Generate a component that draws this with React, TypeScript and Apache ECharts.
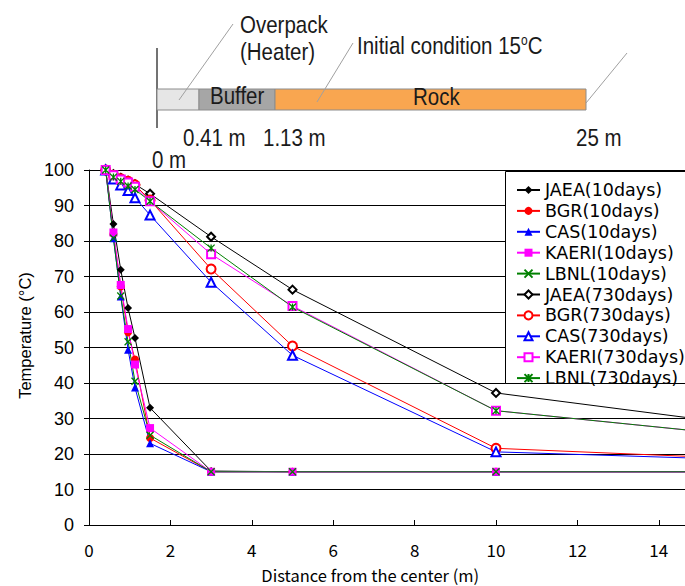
import React, { useEffect, useRef } from 'react';
import * as echarts from 'echarts';

// Distance from the center (m)
const distanceM = [0.41, 0.6, 0.78, 0.96, 1.13, 1.5, 3, 5, 10, 15];

// Temperature (°C) after 10 days
const jaea10 = [100, 84.8, 71.9, 61.1, 52.7, 33.0, 15.2, 15, 15, 15];
const bgr10 = [100, 82.0, 67.2, 54.3, 46.6, 24.5, 15, 15, 15, 15];
const cas10 = [100, 80.8, 64.4, 49.4, 38.7, 23.0, 15, 15, 15, 15];
const kaeri10 = [100, 82.4, 67.6, 55.2, 45.2, 27.3, 15, 15, 15, 15];
const lbnl10 = [100, 80.8, 64.5, 51.6, 40.5, 25.3, 15, 15, 15, 15];

// Temperature (°C) after 730 days
const jaea730 = [100, 98.8, 97.8, 97.0, 96.0, 93.3, 81.2, 66.3, 37.2, 29.8];
const bgr730 = [100, 98.5, 97.5, 96.8, 95.8, 91.5, 72.1, 50.4, 21.6, 19.2];
const cas730 = [100, 97.5, 95.8, 94.2, 92.2, 87.3, 68.4, 47.8, 20.6, 18.8];
const kaeri730 = [100, 98.5, 97.3, 96.5, 95.3, 91.2, 76.3, 61.7, 32.2, 26.4];
const lbnl730 = [100, 98.0, 96.8, 95.5, 94.5, 91.2, 78.0, 61.4, 32.2, 26.4];

const seriesNames = [
  'JAEA(10days)', 'BGR(10days)', 'CAS(10days)', 'KAERI(10days)', 'LBNL(10days)',
  'JAEA(730days)', 'BGR(730days)', 'CAS(730days)', 'KAERI(730days)', 'LBNL(730days)',
];
const seriesValues = [jaea10, bgr10, cas10, kaeri10, lbnl10, jaea730, bgr730, cas730, kaeri730, lbnl730];

const xTicks = [0, 2, 4, 6, 8, 10, 12, 14];
const yTicks = [0, 10, 20, 30, 40, 50, 60, 70, 80, 90, 100];

const CROSS = 'path://M0 0L10 10M10 0L0 10';
const ASTERISK = 'path://M0 0L10 10M10 0L0 10M5 0L5 10';

const colors = ['#000000', '#ff0000', '#0000ff', '#ff00ff', '#008000'];
const filledSymbols = ['diamond', 'circle', 'triangle', 'rect', CROSS];
const emptySymbols = ['emptyDiamond', 'emptyCircle', 'emptyTriangle', 'emptyRect', ASTERISK];
const filledSizes = [8, 8, 8, 8, 7];
const emptySizes = [8, 9, 9, 8, 7];

const DIAG_FONT = '"Liberation Sans", Arial, sans-serif';
const JP_FONT = '"Noto Sans CJK JP", sans-serif';
const LEGEND_FONT = '"DejaVu Sans", sans-serif';

function buildSeries() {
  return seriesValues.map((vals, i) => {
    const k = i % 5;
    const isLong = i >= 5;
    const symbol = isLong ? emptySymbols[k] : filledSymbols[k];
    const isPath = symbol.startsWith('path://');
    const isEmpty = symbol.startsWith('empty');
    return {
      name: seriesNames[i],
      type: 'line',
      data: vals.map((v, j) => [distanceM[j], v]),
      symbol,
      symbolSize: isLong ? emptySizes[k] : filledSizes[k],
      showAllSymbol: true,
      lineStyle: { color: colors[k], width: 1 },
      itemStyle: {
        color: colors[k],
        borderColor: colors[k],
        borderWidth: isPath ? 1.3 : isEmpty ? 1 : 0,
      },
      emphasis: { disabled: true },
      clip: true,
    };
  });
}

function sText(text: string, x: number, y: number, extra: any = {}) {
  return {
    type: 'text',
    x,
    y,
    scaleY: 1.2,
    style: {
      text,
      fontSize: 20.5,
      fontFamily: DIAG_FONT,
      fill: '#1a1a1a',
      align: 'left',
      verticalAlign: 'middle',
      ...extra,
    },
  };
}

export default function App() {
  const ref = useRef<HTMLDivElement>(null);
  useEffect(() => {
    if (!ref.current) return;
    const chart = echarts.init(ref.current, null, { renderer: 'svg' });
    const option: any = {
      animation: false,
      backgroundColor: '#ffffff',
      grid: {
        left: 89,
        top: 170,
        bottom: 61,
        right: -14.5,
        containLabel: false,
        outerBoundsMode: 'none',
      },
      xAxis: {
        type: 'value',
        min: 0,
        max: 15,
        interval: 2,
        name: 'Distance from the center (m)',
        nameLocation: 'middle',
        nameGap: 42,
        nameTextStyle: {
          fontFamily: JP_FONT,
          fontSize: 16.5,
          color: '#000',
          padding: [0, 48, 0, 0],
        },
        axisLine: { lineStyle: { color: '#000', width: 1 } },
        axisTick: { inside: true, length: 5, lineStyle: { color: '#000' } },
        axisLabel: {
          fontFamily: JP_FONT,
          fontSize: 17,
          color: '#000',
          margin: 16,
          showMaxLabel: false,
          formatter: (v: number) => (xTicks.includes(v) ? String(v) : ''),
        },
        splitLine: { show: false },
      },
      yAxis: {
        type: 'value',
        min: 0,
        max: 100,
        interval: 10,
        name: 'Temperature (°C)',
        nameLocation: 'middle',
        nameRotate: 90,
        nameGap: 55,
        nameTextStyle: {
          fontFamily: DIAG_FONT,
          fontSize: 16.5,
          color: '#000',
          padding: [0, 0, 0, 24],
        },
        axisLine: { show: true, lineStyle: { color: '#000', width: 1 } },
        axisTick: { show: true, inside: false, length: 5, lineStyle: { color: '#000' } },
        axisLabel: {
          fontFamily: DIAG_FONT,
          fontSize: 18,
          color: '#000',
          margin: 15,
          formatter: (v: number) => (yTicks.includes(v) ? String(v) : ''),
        },
        splitLine: { show: true, lineStyle: { color: '#000', width: 1 } },
      },
      legend: {
        orient: 'vertical',
        left: 516,
        top: 181,
        padding: 0,
        itemWidth: 23,
        itemHeight: 10,
        itemGap: 2.9,
        textStyle: { fontFamily: LEGEND_FONT, fontSize: 17.5, color: '#000' },
        data: seriesNames,
        selectedMode: false,
      },
      graphic: [
        { type: 'line', shape: { x1: 157, y1: 48, x2: 157, y2: 128 }, style: { stroke: '#444', lineWidth: 1.5 } },
        { type: 'rect', shape: { x: 157, y: 89, width: 42, height: 21 }, style: { fill: '#e6e6e6', stroke: '#8c8c8c', lineWidth: 1 } },
        { type: 'rect', shape: { x: 199, y: 89, width: 76, height: 21 }, style: { fill: '#a6a6a6', stroke: '#8c8c8c', lineWidth: 1 } },
        { type: 'rect', shape: { x: 275, y: 89, width: 311, height: 21 }, style: { fill: '#f9a650', stroke: '#8c8c8c', lineWidth: 1 } },
        { type: 'line', shape: { x1: 179, y1: 100, x2: 233, y2: 24 }, style: { stroke: '#a0a0a0', lineWidth: 1 } },
        { type: 'line', shape: { x1: 317, y1: 102, x2: 353, y2: 43 }, style: { stroke: '#a0a0a0', lineWidth: 1 } },
        { type: 'line', shape: { x1: 586, y1: 103, x2: 627, y2: 53 }, style: { stroke: '#a0a0a0', lineWidth: 1 } },
        sText('Overpack', 240, 25),
        sText('(Heater)', 240, 52),
        sText('Initial condition 15{s|o}C', 357, 46, {
          rich: { s: { fontSize: 12, fontFamily: DIAG_FONT, fill: '#1a1a1a', verticalAlign: 'top' } },
        }),
        sText('Buffer', 210, 96),
        sText('Rock', 413, 97),
        sText('0.41 m', 183, 138),
        sText('1.13 m', 263, 138),
        sText('25 m', 576, 138),
        sText('0 m', 152, 160),
        {
          type: 'rect',
          z: 3,
          shape: { x: 505.5, y: 171.5, width: 200, height: 212 },
          style: { fill: '#ffffff', stroke: '#000', lineWidth: 1 },
        },
      ],
      series: buildSeries(),
    };
    chart.setOption(option);
    return () => chart.dispose();
  }, []);
  return <div ref={ref} style={{ position: 'absolute', left: 0, top: 0, width: 685, height: 586 }} />;
}
